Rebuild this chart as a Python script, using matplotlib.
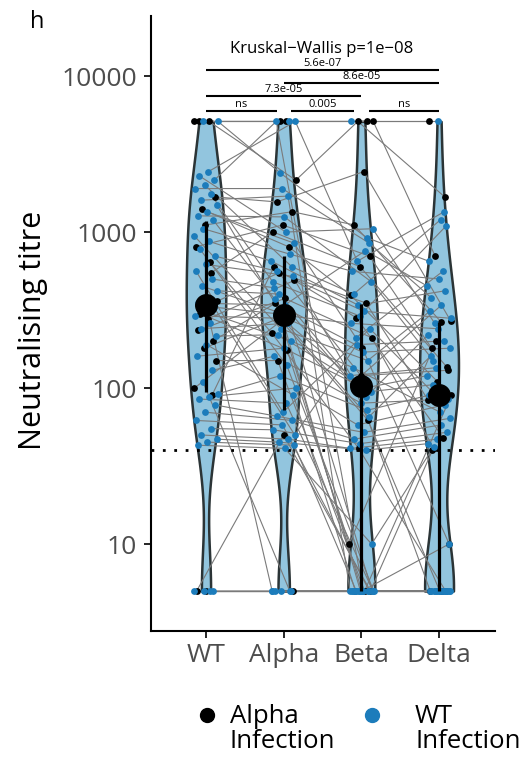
import numpy as np
import matplotlib
matplotlib.use("Agg")
import matplotlib.pyplot as plt
from matplotlib.lines import Line2D
from matplotlib.ticker import NullLocator

plt.rcParams['font.family'] = ['Open Sans', 'DejaVu Sans']

variants = ['WT', 'Alpha', 'Beta', 'Delta']

# infection group of each participant (20 Alpha infection, 50 WT infection)
group = ['Alpha'] * 20 + ['WT'] * 50

# neutralising titre of each participant against each variant
wt = [5120, 5120, 5120, 1680, 1110, 805, 548, 1400, 360, 277, 234, 201, 180, 100, 640, 300, 150, 5, 5, 90,
      5120, 5120, 2440, 2300, 2150, 2000, 1900, 1750, 1600, 1500, 1350, 1270, 1200, 1050, 950, 870, 780, 700,
      620, 560, 500, 450, 420, 380, 350, 330, 310, 290, 260, 240, 215, 190, 160, 130, 110, 92, 88, 85, 78, 70,
      62, 55, 50, 47, 45, 43, 5, 5, 5, 5]
alpha = [5120, 2150, 5120, 1560, 1350, 1110, 1000, 805, 548, 490, 375, 350, 300, 270, 225, 175, 150, 5, 50, 600,
         5120, 2400, 5120, 1000, 5120, 600, 1900, 480, 1700, 320, 850, 1250, 370, 720, 240, 650, 140, 560,
         520, 70, 440, 290, 400, 50, 340, 300, 200, 280, 5, 260, 220, 90, 180, 160, 5, 120, 100, 80, 66, 62,
         58, 54, 47, 45, 43, 41, 5, 5, 5, 5]
beta = [5120, 5120, 5120, 2440, 1110, 700, 600, 394, 351, 282, 210, 180, 106, 62, 41, 10, 5, 5, 5, 120,
        5120, 920, 650, 1050, 5, 400, 850, 290, 5, 760, 210, 480, 5, 560, 150, 340, 5, 310,
        110, 240, 5, 260, 88, 190, 5, 170, 135, 65, 5, 120, 100, 5, 95, 80, 5, 72, 58, 5, 52, 47,
        5, 44, 41, 40, 5, 10, 5, 5, 5, 5]
delta = [5120, 1680, 700, 270, 265, 180, 136, 110, 84, 48, 41, 10, 5, 5, 5, 200, 90, 5, 40, 130,
         5120, 650, 1350, 260, 5, 1200, 380, 1100, 5, 450, 560, 150, 5, 500, 310, 420, 5, 280,
         340, 95, 5, 240, 220, 200, 5, 180, 70, 160, 5, 135, 120, 5, 105, 85, 5, 90, 78, 5, 64, 58,
         5, 52, 47, 44, 5, 42, 10, 5, 5, 5]

threshold = 40
kw_label = 'Kruskal\u2212Wallis p=1e\u221208'
pairs = [('WT', 'Delta', '5.6e-07'), ('Alpha', 'Delta', '8.6e-05'), ('WT', 'Beta', '7.3e-05'),
         ('WT', 'Alpha', 'ns'), ('Alpha', 'Beta', '0.005'), ('Beta', 'Delta', 'ns')]

colours = {'Alpha': '#000000', 'WT': '#1C7CBB'}


def kde_nrd0(v, grid):
    # gaussian kde with R's default bandwidth
    n = len(v)
    sd = np.std(v, ddof=1)
    q75, q25 = np.percentile(v, [75, 25])
    lo = min(sd, (q75 - q25) / 1.34) if q75 > q25 else sd
    bw = 0.9 * lo * n ** -0.2
    z = (grid[:, None] - v[None, :]) / bw
    return np.exp(-0.5 * z ** 2).sum(axis=1) / (n * bw * np.sqrt(2 * np.pi))


values = np.array([wt, alpha, beta, delta], dtype=float)
n = values.shape[1]
xpos = np.arange(1, 5)

fig = plt.figure(figsize=(5.25, 7.64), dpi=100)
ax = fig.add_axes([151 / 525, 1 - 631 / 764, (495 - 151) / 525, (631 - 16) / 764])
ax.set_yscale('log')
ax.set_ylim(2.77, 24260)
ax.set_xlim(0.292, 4.72)

# violins (density on log10 scale, trimmed to range)
grids, dens = [], []
for j in range(4):
    lv = np.log10(values[j])
    g = np.linspace(lv.min(), lv.max(), 300)
    grids.append(g)
    dens.append(kde_nrd0(lv, g))
dmax = max(d.max() for d in dens)
for j in range(4):
    hw = dens[j] / dmax * 0.29
    ax.fill_betweenx(10 ** grids[j], xpos[j] - hw, xpos[j] + hw, facecolor='#92C5DE',
                     edgecolor='#2B3436', lw=1.8, zorder=1)

# jittered positions, participant lines and points
k = np.arange(n)
off = (((k[None, :] * 0.6180339887 + np.arange(4)[:, None] * 0.37) % 1) - 0.5) * 0.32
for i in range(n):
    ax.plot(xpos + off[:, i], values[:, i], color='#7A7A7A', lw=0.8, zorder=2)
ax.axhline(threshold, color='black', ls=(0, (1, 3.1)), lw=2, zorder=2.5)
for i in range(n):
    ax.scatter(xpos + off[:, i], values[:, i], s=24, color=colours[group[i]], lw=0, zorder=3)

# median and interquartile range
med = np.median(values, axis=1)
q1, q3 = np.percentile(values, [25, 75], axis=1)
ax.vlines(xpos, q1, q3, color='black', lw=2.3, zorder=4)
ax.plot(xpos, med, 'o', color='black', ms=15.5, zorder=5)

# significance brackets
levels = [10926, 9020, 7450, 6010, 6010, 6010]
ends = [(1, 4), (2, 4), (1, 3), (1, 1.914), (2.094, 2.905), (3.098, 4)]
for (a, b, lab), y, (xa, xb) in zip(pairs, levels, ends):
    ax.plot([xa, xb], [y, y], color='black', lw=1.5, solid_capstyle='butt', zorder=6)
    ax.annotate(lab, xy=((xa + xb) / 2, y), xytext=(0, 0.5), textcoords='offset points',
                ha='center', va='bottom', fontsize=8)
ax.text(2.49, 14900, kw_label, ha='center', va='center', fontsize=12)

# axes styling
for s in ['top', 'right']:
    ax.spines[s].set_visible(False)
for s in ['left', 'bottom']:
    ax.spines[s].set_linewidth(1.5)
ax.set_yticks([10, 100, 1000, 10000], labels=['10', '100', '1000', '10000'])
ax.yaxis.set_minor_locator(NullLocator())
ax.set_xticks(xpos, labels=variants)
ax.tick_params(labelsize=19, labelcolor='#4D4D4D', length=5, width=1.2)
ax.tick_params(axis='y', pad=5)

fig.text(33 / 525, 1 - 330 / 764, 'Neutralising titre', rotation=90, fontsize=22,
         ha='center', va='center')
fig.text(37 / 525, 1 - 22 / 764, 'h', fontsize=17, ha='center', va='center')

# legend
for xd, xt, name, col in [(207, 230, 'Alpha', '#000000'), (372, 415, 'WT', '#1C7CBB')]:
    fig.add_artist(Line2D([xd / 525], [1 - 715 / 764], marker='o', ms=10, color=col, ls='none',
                          transform=fig.transFigure))
    fig.text(xt / 525, 1 - 723 / 764, name, fontsize=18.5, va='baseline')
    fig.text(xt / 525, 1 - 748 / 764, 'Infection', fontsize=18.5, va='baseline')

fig.savefig('out.png', dpi=100)
